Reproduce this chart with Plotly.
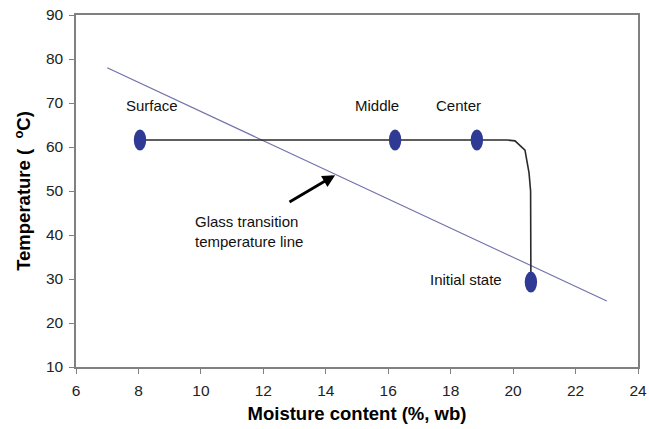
import plotly.graph_objects as go

# Drying path through the grain kernel (moisture %, temperature °C)
path_x = [8.05, 16.22, 18.84, 19.8, 20.06, 20.38, 20.51, 20.56, 20.57]
path_y = [61.6, 61.6, 61.6, 61.6, 61.4, 59.3, 54.1, 50.0, 29.3]

# Labelled states
state_names = ["Surface", "Middle", "Center", "Initial state"]
state_x = [8.05, 16.22, 18.84, 20.57]
state_y = [61.6, 61.6, 61.6, 29.3]
label_x = [8.43, 15.63, 18.25, 18.49]
label_y = [69.5, 69.5, 69.5, 30.0]

# Glass transition temperature line
tg_x = [7.0, 23.0]
tg_y = [78.0, 25.0]

# Arrow pointing at the glass transition line
arrow_tail = (12.79, 47.3)
arrow_head = (14.3, 53.6)

FONT = "Liberation Sans, Arial, sans-serif"

fig = go.Figure()

fig.add_trace(go.Scatter(x=tg_x, y=tg_y, mode="lines",
                         line=dict(color="#7373AA", width=1.2),
                         hoverinfo="skip", showlegend=False))
fig.add_trace(go.Scatter(x=path_x, y=path_y, mode="lines",
                         line=dict(color="#2a2a2a", width=1.6),
                         hoverinfo="skip", showlegend=False))

# Elliptical markers, sized in pixels and anchored at each state
shapes = []
for sx, sy in zip(state_x, state_y):
    shapes.append(dict(type="circle", xref="x", yref="y",
                       xsizemode="pixel", ysizemode="pixel",
                       xanchor=sx, yanchor=sy,
                       x0=-6.2, x1=6.2, y0=-10.5, y1=10.5,
                       fillcolor="#2E3A94", line=dict(color="#2E3A94", width=0)))

annotations = []
for name, lx, ly in zip(state_names, label_x, label_y):
    annotations.append(dict(x=lx, y=ly, xref="x", yref="y", text=name,
                            showarrow=False,
                            font=dict(family=FONT, size=15, color="#111")))

annotations.append(dict(x=arrow_head[0], y=arrow_head[1], ax=arrow_tail[0], ay=arrow_tail[1],
                        xref="x", yref="y", axref="x", ayref="y", text="",
                        showarrow=True, arrowhead=2, arrowsize=0.9, arrowwidth=2.8,
                        arrowcolor="#000", standoff=0, startstandoff=0))
annotations.append(dict(x=9.76, y=40.8, xref="x", yref="y",
                        text="Glass transition<br>temperature line",
                        showarrow=False, align="left", xanchor="left",
                        font=dict(family=FONT, size=15, color="#111")))

axis_common = dict(showgrid=False, zeroline=False, showline=True, linecolor="#808080",
                   linewidth=1.5, mirror=True, ticks="outside", ticklen=5,
                   tickcolor="#808080", tickwidth=1.3, automargin=False,
                   tickfont=dict(family=FONT, size=15.5, color="#222"))

fig.update_layout(
    width=649, height=429,
    margin=dict(l=76, r=11, t=15, b=62),
    plot_bgcolor="white", paper_bgcolor="white",
    shapes=shapes, annotations=annotations,
    xaxis=dict(range=[6, 24], dtick=2, tick0=6, ticklabelstandoff=4,
               title=dict(text="<b>Moisture content (%, wb)</b>", standoff=9,
                          font=dict(family=FONT, size=18.5, color="#000")),
               **axis_common),
    yaxis=dict(range=[10, 90], dtick=10, tick0=10, ticklabelstandoff=3,
               title=dict(text="<b>Temperature (  <sup>o</sup>C)</b>", standoff=10,
                          font=dict(family=FONT, size=18.5, color="#000")),
               **axis_common),
)

fig.write_html("out.html")
